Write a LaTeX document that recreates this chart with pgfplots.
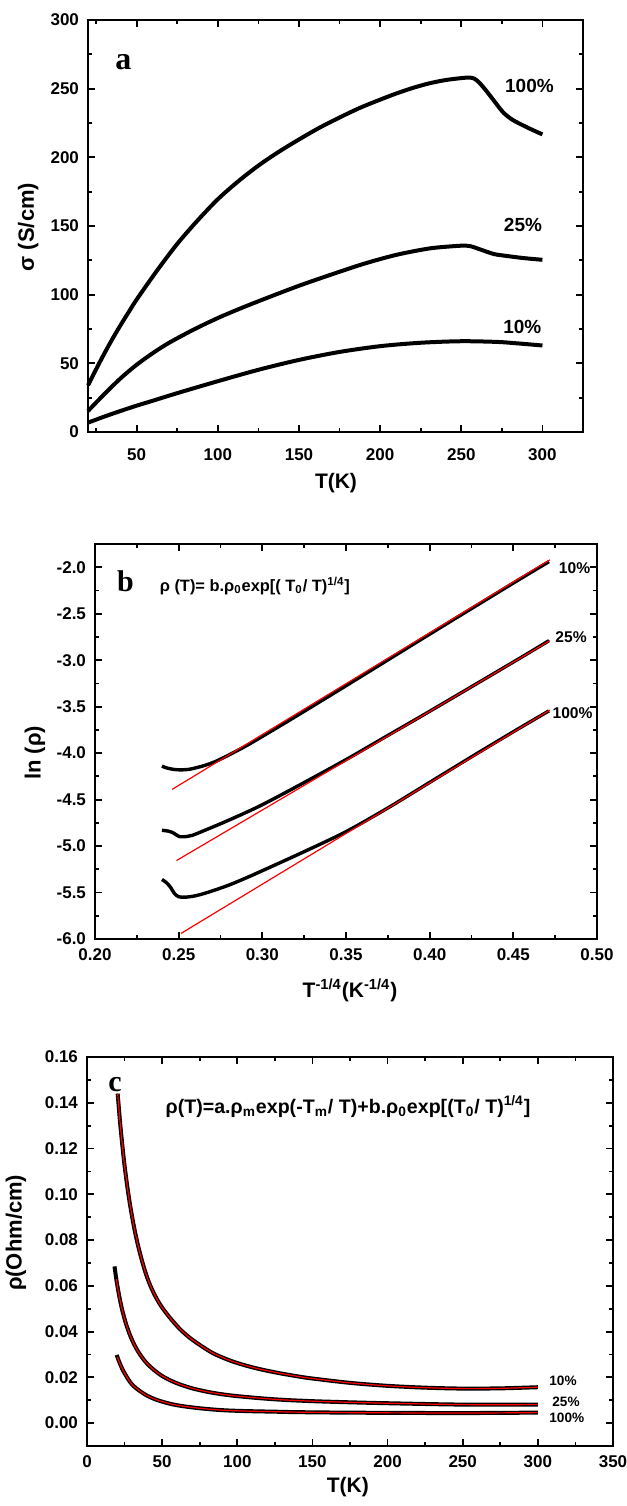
\documentclass[border=0pt]{standalone}
\usepackage{fontspec}
\setmainfont{Liberation Sans}
\newfontfamily\timesfont{Liberation Serif}
\usepackage{pgfplots}
\pgfplotsset{compat=1.18}
\definecolor{fitred}{RGB}{255,0,0}
\pgfplotsset{
  myax/.style={
    scale only axis,
    anchor=south west,
    clip=false,
    axis line style={line width=1pt},
    tick align=inside,
    tick pos=both,
    major tick length=3.5pt,
    minor tick length=2pt,
    every tick/.style={black, line width=0.9pt},
    tick label style={font=\fontsize{8.5}{10}\bfseries\selectfont},
    xticklabel style={yshift=-1.5pt},
    yticklabel style={xshift=-1pt},
    /pgf/number format/assume math mode=true,
    label style={font=\fontsize{10.5}{12}\bfseries\selectfont},
  },
}
\tikzset{pct/.style={font=\fontsize{9.5}{11}\bfseries\selectfont}}
\begin{document}
\begin{tikzpicture}
\path[use as bounding box] (0,0) rectangle (313.5pt,-753pt);
% ---------------- panel a ----------------
\begin{axis}[myax,
  at={(44pt,-216pt)}, width=247.5pt, height=206pt,
  xmin=20, xmax=325, ymin=0, ymax=300,
  xtick={50,100,150,200,250,300},
  minor xtick={25,75,125,175,225,275,325},
  ytick={0,50,100,150,200,250,300},
  minor ytick={25,75,125,175,225,275},
  xticklabel style={yshift=-3.5pt},
  xlabel={T(K)}, ylabel={σ (S/cm)},
  xlabel style={at={(axis description cs:0.501,-0.124)}, anchor=center},
  ylabel style={at={(axis description cs:-0.121,0.4976)}, anchor=center, font=\fontsize{11}{12}\bfseries\selectfont},
]
\addplot[black, line width=2pt, smooth] coordinates {
(20,34)(25,45.7)(30,57)(35,67.7)(40,77.7)(45,87.2)(50,96.5)(62.5,117.5)(75,137)(87.5,154)(100,169.5)(112.5,182.5)(125,194)(137.5,204)(150,213)(162.5,221.5)(175,229)(187.5,236)(200,242)(210,246.5)(220,250.5)(230,253.8)(240,256.2)(250,257.7)(255,258.1)(258,257.3)(261,254.5)(265.7,248)(271.9,238.5)(276,232.5)(282,227)(292,221)(300,216.7)};
\addplot[black, line width=2pt, smooth] coordinates {
(20,15.3)(30,27.5)(40,39)(50,49)(60,57.5)(70,65)(85,74.5)(100,83)(115,90.5)(130,97.5)(150,106.5)(172,115.5)(190,122.5)(210,129)(230,133.6)(245,135.3)(252,135.7)(256,135.2)(262,132.8)(270,129.6)(276,128.5)(288,126.7)(300,125.4)};
\addplot[black, line width=2pt, smooth] coordinates {
(20,6.8)(30,11.2)(40,15.3)(50,19.2)(60,22.8)(75,28.3)(100,37)(125,45.3)(150,52.5)(175,58.3)(200,62.5)(225,65)(250,66.1)(272,65.6)(285,64.5)(300,63)};
\node[pct] at (axis cs:292,252) {100\%};
\node[pct] at (axis cs:288,150.5) {25\%};
\node[pct] at (axis cs:287.6,76.7) {10\%};
\node[font=\fontsize{16}{18}\timesfont\bfseries\selectfont] at (axis cs:41.8,269) {a};
\end{axis}
% ---------------- panel b ----------------
\begin{axis}[myax,
  at={(47.5pt,-469.5pt)}, width=251pt, height=197.5pt,
  xmin=0.20, xmax=0.50, ymin=-6.0, ymax=-1.75,
  xtick={0.20,0.25,0.30,0.35,0.40,0.45,0.50},
  minor xtick={0.225,0.275,0.325,0.375,0.425,0.475},
  ytick={-6.0,-5.5,-5.0,-4.5,-4.0,-3.5,-3.0,-2.5,-2.0},
  minor ytick={-5.75,-5.25,-4.75,-4.25,-3.75,-3.25,-2.75,-2.25,-1.75},
  xticklabel style={/pgf/number format/.cd, fixed, fixed zerofill, precision=2},
  yticklabel style={/pgf/number format/.cd, fixed, fixed zerofill, precision=1},
  xlabel={T\textsuperscript{-1/4}(K\textsuperscript{-1/4})}, ylabel={ln (ρ)},
  xlabel style={at={(axis description cs:0.508,-0.129)}, anchor=center},
  ylabel style={at={(axis description cs:-0.1195,0.471)}, anchor=center, font=\fontsize{11}{12}\bfseries\selectfont},
]
\addplot[black, line width=1.7pt, smooth] coordinates {
(0.240,-4.14)(0.243,-4.16)(0.247,-4.175)(0.251,-4.18)(0.256,-4.175)(0.261,-4.155)(0.266,-4.13)(0.272,-4.09)(0.28,-4.02)(0.29,-3.925)(0.30,-3.82)(0.32,-3.605)(0.35,-3.275)(0.40,-2.72)(0.45,-2.17)(0.4713,-1.94)};
\addplot[black, line width=1.7pt, smooth] coordinates {
(0.240,-4.83)(0.244,-4.84)(0.247,-4.86)(0.250,-4.895)(0.253,-4.90)(0.258,-4.885)(0.265,-4.835)(0.275,-4.76)(0.287,-4.665)(0.30,-4.555)(0.32,-4.365)(0.35,-4.07)(0.375,-3.81)(0.40,-3.55)(0.45,-3.02)(0.4713,-2.79)};
\addplot[black, line width=1.7pt, smooth] coordinates {
(0.240,-5.36)(0.2425,-5.39)(0.245,-5.44)(0.2475,-5.51)(0.250,-5.545)(0.254,-5.55)(0.26,-5.535)(0.268,-5.495)(0.28,-5.42)(0.29,-5.345)(0.30,-5.265)(0.325,-5.06)(0.35,-4.845)(0.375,-4.59)(0.40,-4.315)(0.425,-4.04)(0.45,-3.77)(0.4713,-3.545)};
\addplot[fitred, line width=0.6pt] coordinates {(0.2461,-4.39)(0.4718,-1.92)};
\addplot[fitred, line width=0.6pt] coordinates {(0.2487,-5.156)(0.4718,-2.79)};
\addplot[fitred, line width=0.6pt] coordinates {(0.2514,-5.94)(0.4718,-3.537)};
\node[font=\fontsize{7.8}{9}\bfseries\selectfont] at (axis cs:0.4866,-2.011) {10\%};
\node[font=\fontsize{7.8}{9}\bfseries\selectfont] at (axis cs:0.4845,-2.747) {25\%};
\node[font=\fontsize{7.8}{9}\bfseries\selectfont] at (axis cs:0.4854,-3.566) {100\%};
\node[font=\fontsize{15}{17}\timesfont\bfseries\selectfont] at (axis cs:0.2182,-2.147) {b};
\node[anchor=west, inner sep=0pt, font=\fontsize{8.2}{10}\bfseries\selectfont] at (axis cs:0.2385,-2.20)
  {ρ (T)= b.ρ\textsubscript{0}exp[( T\textsubscript{0}/ T)\textsuperscript{1/4}]};
\end{axis}
% ---------------- panel c ----------------
\begin{axis}[myax,
  at={(43.5pt,-723pt)}, width=263pt, height=194.5pt,
  xmin=0, xmax=350, ymin=-0.01, ymax=0.16,
  xtick={0,50,100,150,200,250,300,350},
  minor xtick={25,75,125,175,225,275,325},
  ytick={0,0.02,0.04,0.06,0.08,0.10,0.12,0.14,0.16},
  minor ytick={-0.01,0.01,0.03,0.05,0.07,0.09,0.11,0.13,0.15},
  yticklabel style={/pgf/number format/.cd, fixed, fixed zerofill, precision=2},
  scaled y ticks=false,
  xlabel={T(K)}, ylabel={ρ(Ohm/cm)},
  xlabel style={at={(axis description cs:0.496,-0.105)}, anchor=center},
  ylabel style={at={(axis description cs:-0.135,0.548)}, anchor=center, font=\fontsize{11}{12}\bfseries\selectfont},
]
\addplot[black, line width=2pt, smooth] coordinates {
(20.4,0.1440)(22,0.1315)(23.5,0.1215)(25,0.1125)(27,0.1025)(29,0.0940)(31.5,0.0850)(34,0.0775)(37,0.0700)(40,0.0637)(43,0.0588)(46.5,0.0542)(50,0.0505)(55,0.0462)(61.7,0.0412)(68,0.0375)(75,0.0342)(84,0.0305)(95,0.0274)(106,0.0251)(117,0.0233)(128.3,0.0218)(140.6,0.0204)(150,0.0195)(175,0.0176)(200,0.0163)(225,0.0155)(250,0.0151)(275,0.0152)(300,0.0157)};
\addplot[black, line width=2pt, smooth] coordinates {
(18.3,0.0685)(19.5,0.0629)(21,0.0571)(22.5,0.0521)(24,0.0480)(26,0.0433)(28.3,0.0390)(30.5,0.0356)(33,0.0324)(36,0.0293)(40,0.0260)(45,0.0230)(50,0.0206)(56,0.0185)(62,0.0169)(70,0.0152)(80,0.0137)(90,0.0126)(100,0.0118)(115,0.0109)(130,0.0102)(150,0.0096)(175,0.0091)(200,0.0087)(250,0.0081)(300,0.0081)};
\addplot[black, line width=2pt, smooth] coordinates {
(19.8,0.0298)(21,0.0275)(22.5,0.0251)(24,0.0230)(26,0.0207)(28.3,0.0183)(31,0.0162)(35,0.0141)(40,0.0120)(45,0.0105)(50,0.0094)(57,0.0082)(65,0.0073)(75,0.0065)(85,0.0059)(95,0.0055)(110,0.0052)(125,0.0050)(140,0.0048)(170,0.0046)(200,0.0045)(250,0.0044)(300,0.0046)};
\addplot[fitred, line width=0.6pt, smooth] coordinates {
(20.4,0.1440)(22,0.1315)(23.5,0.1215)(25,0.1125)(27,0.1025)(29,0.0940)(31.5,0.0850)(34,0.0775)(37,0.0700)(40,0.0637)(43,0.0588)(46.5,0.0542)(50,0.0505)(55,0.0462)(61.7,0.0412)(68,0.0375)(75,0.0342)(84,0.0305)(95,0.0274)(106,0.0251)(117,0.0233)(128.3,0.0218)(140.6,0.0204)(150,0.0195)(175,0.0176)(200,0.0163)(225,0.0155)(250,0.0151)(275,0.0152)(300,0.0157)};
\addplot[fitred, line width=0.6pt, smooth] coordinates {
(19.5,0.0629)(21,0.0571)(22.5,0.0521)(24,0.0480)(26,0.0433)(28.3,0.0390)(30.5,0.0356)(33,0.0324)(36,0.0293)(40,0.0260)(45,0.0230)(50,0.0206)(56,0.0185)(62,0.0169)(70,0.0152)(80,0.0137)(90,0.0126)(100,0.0118)(115,0.0109)(130,0.0102)(150,0.0096)(175,0.0091)(200,0.0087)(250,0.0081)(300,0.0081)};
\addplot[fitred, line width=0.6pt, smooth] coordinates {
(20.3,0.0290)(21,0.0275)(22.5,0.0251)(24,0.0230)(26,0.0207)(28.3,0.0183)(31,0.0162)(35,0.0141)(40,0.0120)(45,0.0105)(50,0.0094)(57,0.0082)(65,0.0073)(75,0.0065)(85,0.0059)(95,0.0055)(110,0.0052)(125,0.0050)(140,0.0048)(170,0.0046)(200,0.0045)(250,0.0044)(300,0.0046)};
\node[anchor=west, font=\fontsize{6.8}{8}\bfseries\selectfont] at (axis cs:303,0.0187) {10\%};
\node[anchor=west, font=\fontsize{6.8}{8}\bfseries\selectfont] at (axis cs:305,0.0095) {25\%};
\node[anchor=west, font=\fontsize{6.8}{8}\bfseries\selectfont] at (axis cs:303,0.0023) {100\%};
\node[font=\fontsize{15}{17}\timesfont\bfseries\selectfont] at (axis cs:18.6,0.1479) {c};
\node[font=\fontsize{9.8}{11}\bfseries\selectfont] at (axis cs:173.7,0.1384)
  {ρ(T)=a.ρ\textsubscript{m}exp(-T\textsubscript{m}/ T)+b.ρ\textsubscript{0}exp[(T\textsubscript{0}/ T)\textsuperscript{1/4}]};
\end{axis}
\end{tikzpicture}
\end{document}
